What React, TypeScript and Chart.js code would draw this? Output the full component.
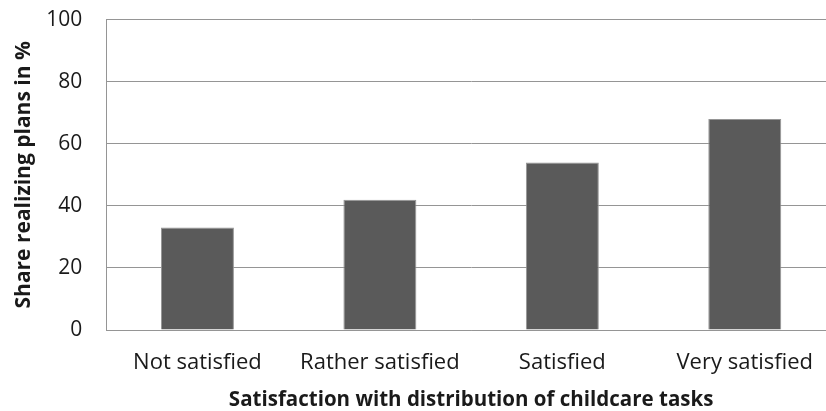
import React, { useEffect, useRef } from "react";
import { Chart, registerables } from "chart.js";

Chart.register(...registerables);

const categories = ["Not satisfied", "Rather satisfied", "Satisfied", "Very satisfied"];
const shareValues = [33, 42, 54, 68];
const yTicks = [0, 20, 40, 60, 80, 100];
const xTitle = "Satisfaction with distribution of childcare tasks";
const yTitle = "Share realizing plans in %";

const FONT = "'Open Sans', 'Liberation Sans', sans-serif";

export default function App() {
  const ref = useRef<HTMLCanvasElement | null>(null);
  useEffect(() => {
    document.body.style.margin = "0";
    const ctx = ref.current!.getContext("2d")!;
    const chart = new Chart(ctx, {
      type: "bar",
      data: {
        labels: categories,
        datasets: [
          {
            data: shareValues,
            backgroundColor: "#5a5a5a",
            borderColor: "#959595",
            borderWidth: 1,
            categoryPercentage: 0.8,
            barPercentage: 0.5,
          },
        ],
      },
      options: {
        responsive: false,
        animation: false,
        devicePixelRatio: 1,
        layout: { padding: { left: 7, right: 0, top: 0, bottom: 0 } },
        plugins: { legend: { display: false }, tooltip: { enabled: false } },
        scales: {
          x: {
            grid: { display: false, drawTicks: false },
            border: { display: true, color: "#959595", width: 1 },
            ticks: { color: "#1a1a1a", font: { family: FONT, size: 22 }, padding: 20 },
            title: {
              display: true,
              text: xTitle,
              color: "#1a1a1a",
              font: { family: FONT, size: 20.5, weight: "bold" },
              padding: { top: -9, bottom: -1 },
            },
          },
          y: {
            min: 0,
            max: 100,
            afterBuildTicks: (axis: any) => {
              axis.ticks = yTicks.map((v) => ({ value: v }));
            },
            grid: { color: "#959595", lineWidth: 1, drawTicks: false },
            border: { display: true, color: "#959595", width: 1 },
            ticks: { color: "#1a1a1a", font: { family: FONT, size: 21 }, padding: 24 },
            title: {
              display: true,
              text: yTitle,
              color: "#1a1a1a",
              font: { family: FONT, size: 21, weight: "bold" },
              padding: { top: 4, bottom: -14 },
            },
          },
        },
      },
    });
    return () => chart.destroy();
  }, []);
  return (
    <div style={{ width: 826, height: 411, overflow: "hidden" }}>
      <canvas ref={ref} width={836} height={428} style={{ display: "block", marginTop: -17 }} />
    </div>
  );
}
